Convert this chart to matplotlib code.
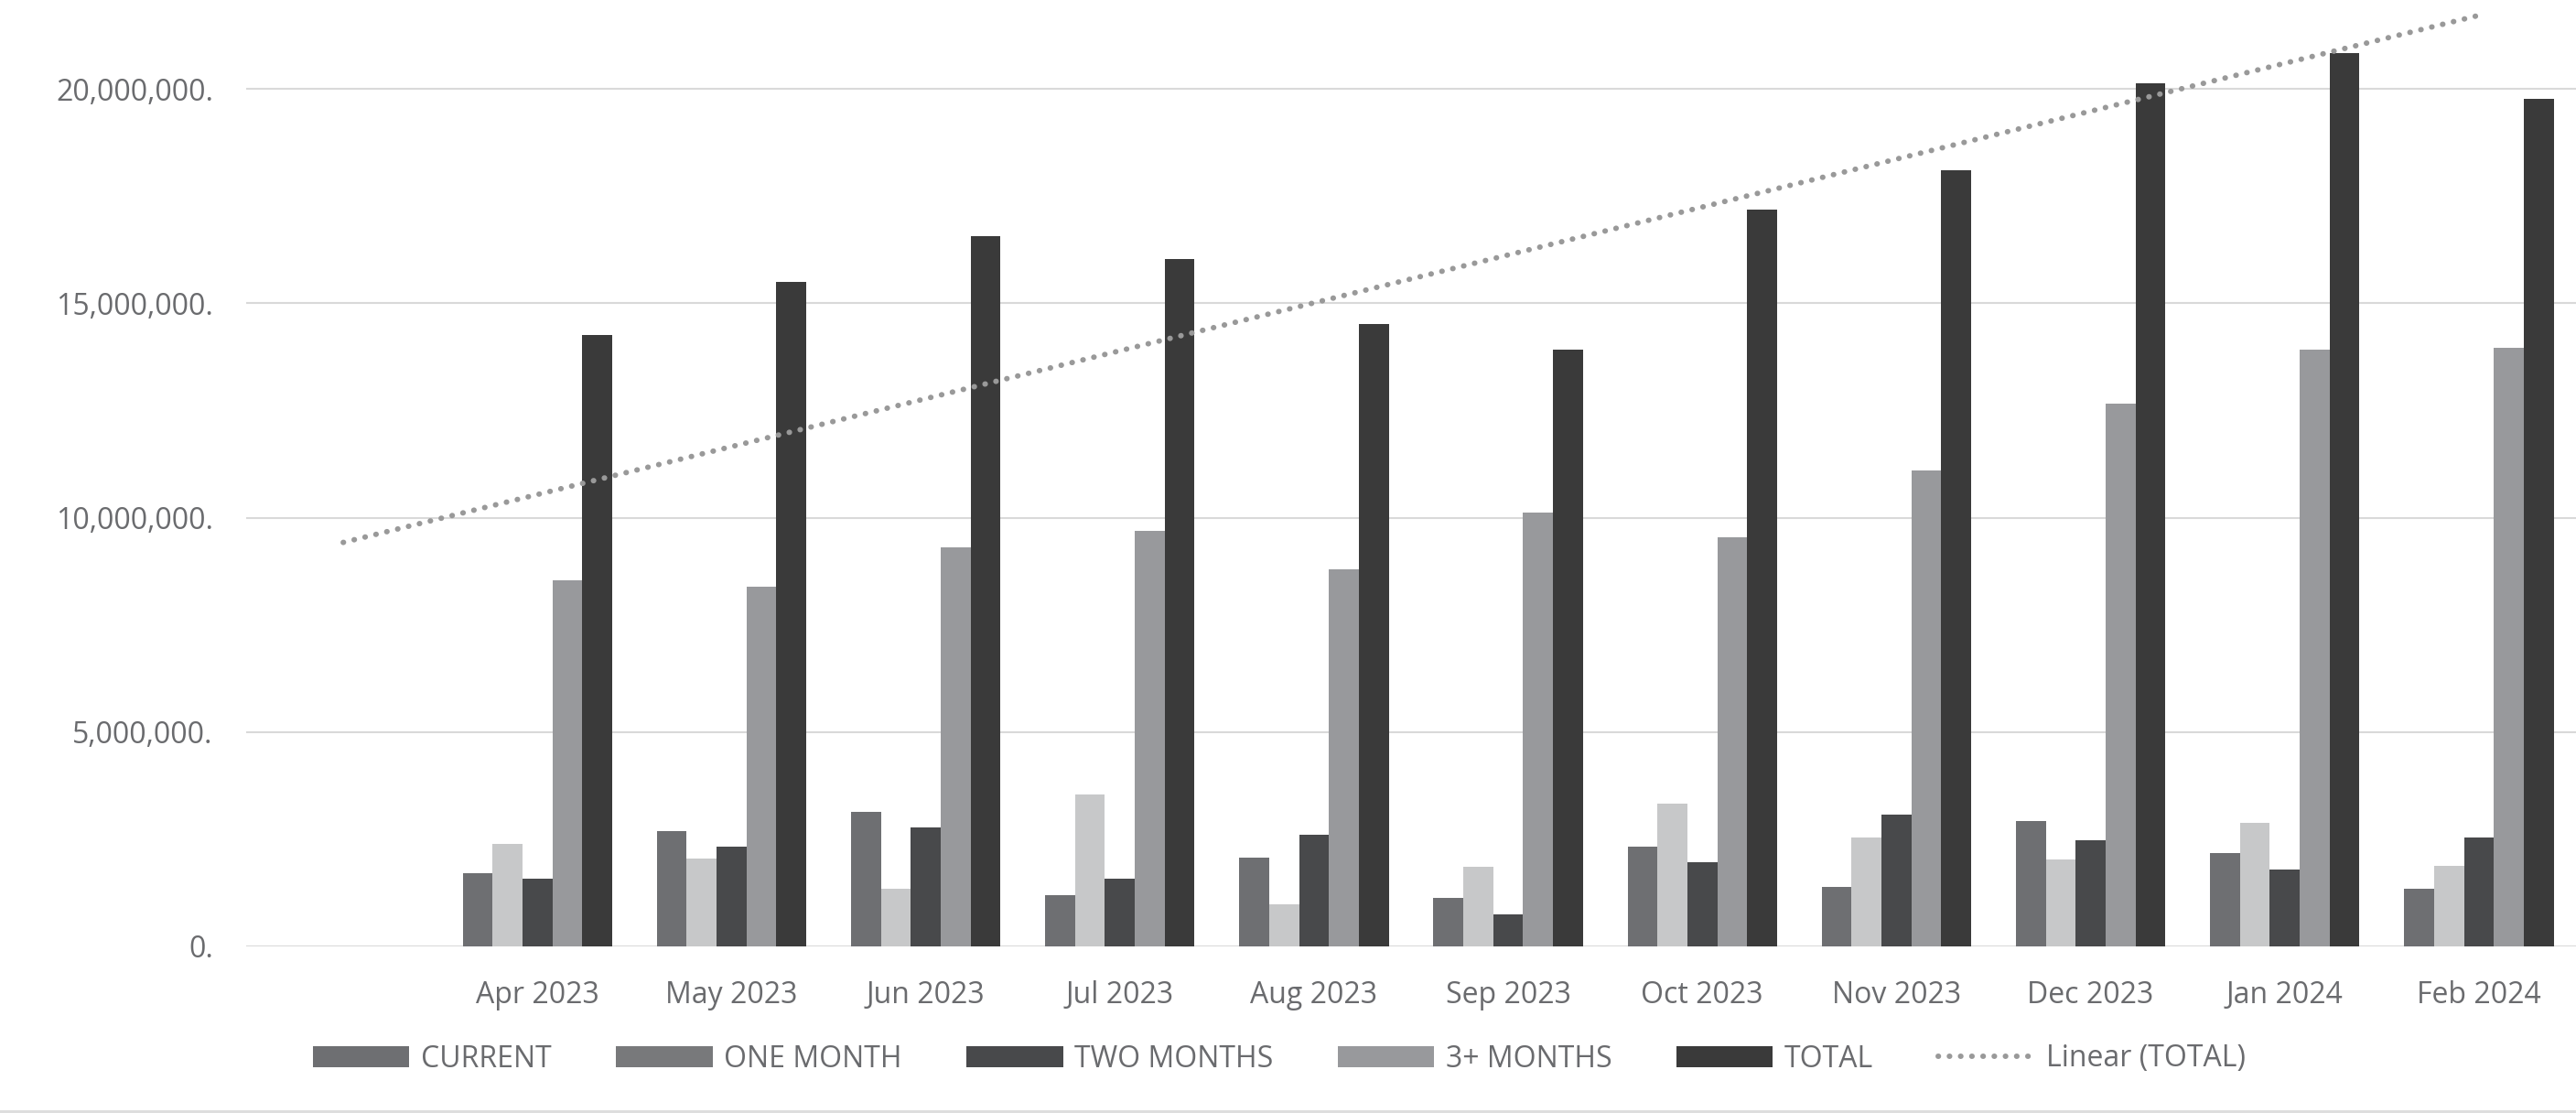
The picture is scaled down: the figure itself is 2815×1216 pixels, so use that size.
import matplotlib
matplotlib.use("Agg")
import matplotlib.pyplot as plt
import numpy as np
from matplotlib.patches import Patch, Rectangle
from matplotlib.lines import Line2D
from matplotlib.ticker import FuncFormatter

# ---- data ----
months = ["", "Apr 2023", "May 2023", "Jun 2023", "Jul 2023", "Aug 2023", "Sep 2023",
          "Oct 2023", "Nov 2023", "Dec 2023", "Jan 2024", "Feb 2024"]
current    = [0, 1700000, 2680000, 3130000, 1190000, 2080000, 1140000, 2320000, 1390000, 2930000, 2170000, 1340000]
one_month  = [0, 2380000, 2050000, 1340000, 3540000,  980000, 1850000, 3330000, 2530000, 2020000, 2880000, 1870000]
two_months = [0, 1570000, 2330000, 2780000, 1590000, 2610000,  740000, 1970000, 3080000, 2480000, 1800000, 2550000]
three_plus = [0, 8540000, 8390000, 9310000, 9680000, 8800000, 10120000, 9550000, 11100000, 12660000, 13910000, 13960000]
total      = [0, 14260000, 15500000, 16560000, 16030000, 14520000, 13910000, 17190000, 18100000, 20130000, 20830000, 19770000]
series_names = ["CURRENT", "ONE MONTH", "TWO MONTHS", "3+ MONTHS", "TOTAL"]
y_ticks = [0, 5000000, 10000000, 15000000, 20000000]

# ---- style ----
bar_colors = ["#6e6f72", "#c7c8c9", "#48494b", "#98999c", "#3a3a3a"]
legend_colors = ["#6e6f72", "#78797b", "#48494b", "#98999c", "#3a3a3a"]
text_color = "#6a6b6e"
grid_color = "#d9d9d9"
trend_color = "#999999"
FONT = ["Open Sans", "DejaVu Sans"]
FS = 23
TREND_LW = 4.3
TREND_LS = (0, (0.05, 2.0))

plt.rcParams['font.family'] = FONT

W, H = 2815, 1216
fig = plt.figure(figsize=(W / 100, H / 100), dpi=100)
ax = fig.add_axes([269 / W, (H - 1034) / H, 1 - 269 / W, 1034 / H])

x = np.arange(len(months))
bw = 0.154
all_series = [current, one_month, two_months, three_plus, total]
for i, (vals, col) in enumerate(zip(all_series, bar_colors)):
    ax.bar(x + (i - 2) * bw, vals, width=bw, color=col, zorder=2, linewidth=0)

# linear trendline of TOTAL
coef = np.polyfit(x, np.array(total, dtype=float), 1)
ax.plot([x[0], x[-1]], np.polyval(coef, [x[0], x[-1]]), color=trend_color,
        linewidth=TREND_LW, linestyle=TREND_LS, dash_capstyle='round', zorder=3)

ax.set_xlim(-0.5, len(months) - 0.5)
ax.set_ylim(0, 1034 / 46.85 * 1e6)
ax.set_yticks(y_ticks)
ax.yaxis.set_major_formatter(FuncFormatter(lambda v, p: f"{int(round(v)):,}."))
ax.set_xticks(x)
ax.set_xticklabels(months)
ax.grid(axis='y', color=grid_color, linewidth=1.5, zorder=0)
ax.set_axisbelow(True)
for s in ax.spines.values():
    s.set_visible(False)
ax.tick_params(axis='both', length=0, labelsize=FS, colors=text_color)
ax.tick_params(axis='y', pad=26)
ax.tick_params(axis='x', pad=27)

handles = [Patch(facecolor=c, edgecolor='none') for c in legend_colors]
handles.append(Line2D([0], [0], color=trend_color, linewidth=TREND_LW,
                      linestyle=TREND_LS, dash_capstyle='round'))
labels = series_names + ["Linear (TOTAL)"]
leg = fig.legend(handles, labels, loc='center', bbox_to_anchor=(1398 / W, (H - 1157) / H),
                 ncol=6, frameon=False, fontsize=FS, handlelength=3.3, handleheight=0.7,
                 handletextpad=0.4, columnspacing=2.2, borderpad=0, borderaxespad=0)
for t in leg.get_texts():
    t.set_color(text_color)

fig.patches.append(Rectangle((0, 0), 1, 3 / H, transform=fig.transFigure,
                             facecolor="#dedede", edgecolor='none'))

fig.savefig("out.png", dpi=100, facecolor='white')
